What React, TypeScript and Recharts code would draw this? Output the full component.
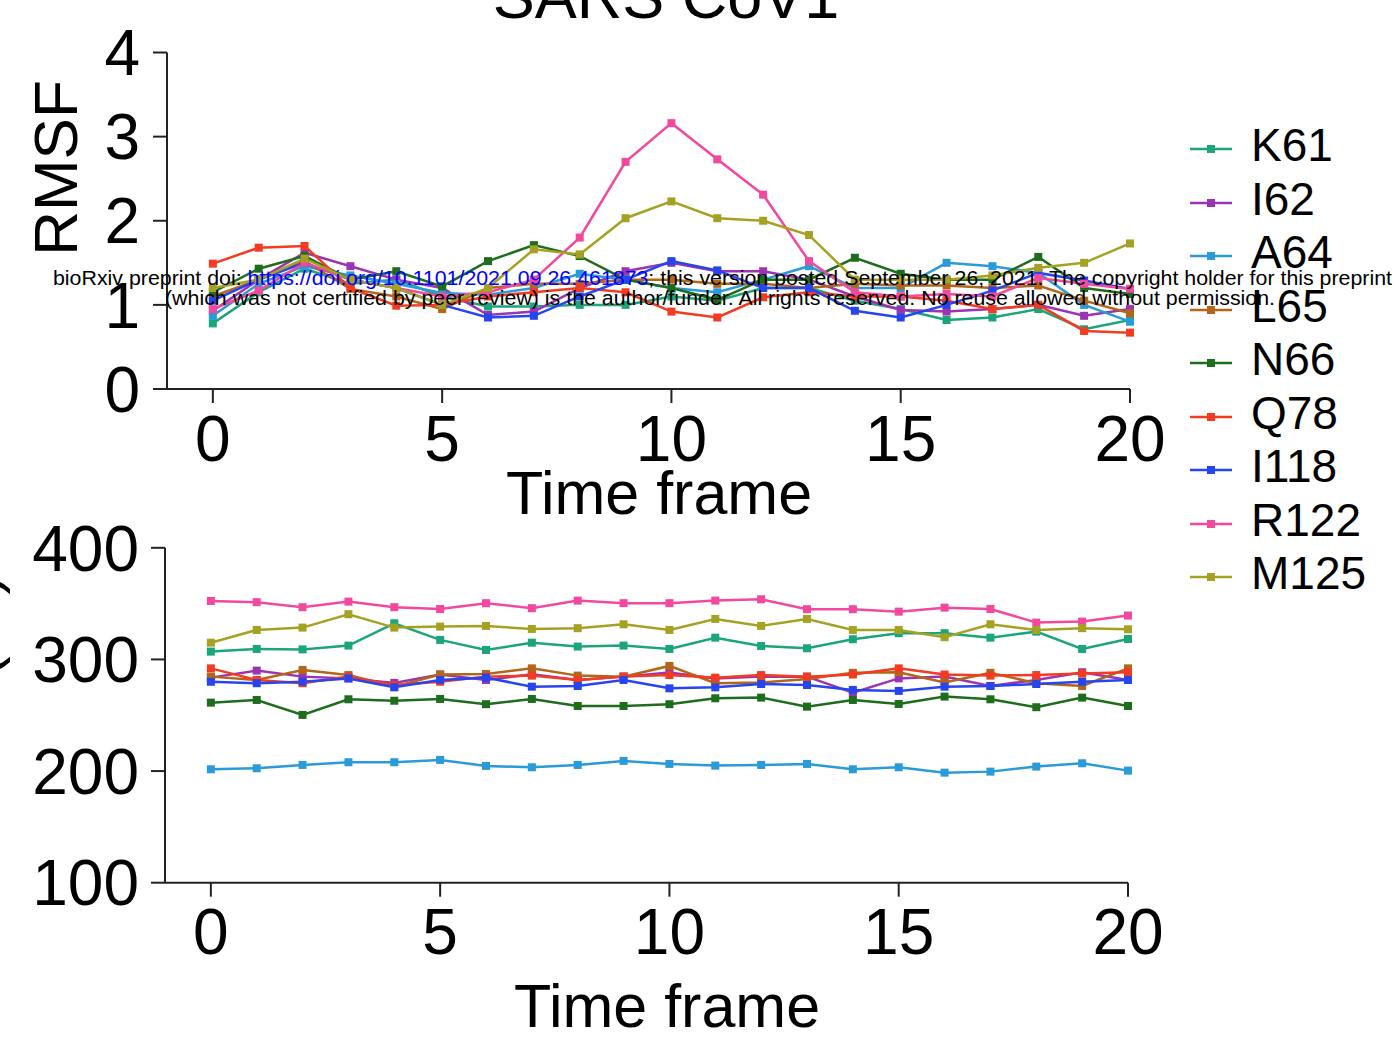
import React from 'react';
import { LineChart, Line, XAxis, YAxis, Legend } from 'recharts';

const FONT = '"Liberation Sans", Arial, sans-serif';

const frames = [0, 1, 2, 3, 4, 5, 6, 7, 8, 9, 10, 11, 12, 13, 14, 15, 16, 17, 18, 19, 20];
const xTicks = [0, 5, 10, 15, 20];
const rmsfTicks = [0, 1, 2, 3, 4];
const sasaTicks = [100, 200, 300, 400];

const residues = ['K61', 'I62', 'A64', 'L65', 'N66', 'Q78', 'I118', 'R122', 'M125'];
const colors = ['#1ba57c', '#9b33b3', '#2a9ad8', '#b3661a', '#1d6d1d', '#f23b20', '#2745ef', '#f2489e', '#a5a223'];

// RMSF (top panel)
const rmsfK61 = [0.78, 1.15, 1.43, 1.25, 1.3, 1.1, 0.98, 0.98, 1.0, 1.0, 1.1, 1.05, 1.2, 1.2, 1.05, 0.95, 0.82, 0.85, 0.95, 0.71, 0.82];
const rmsfI62 = [0.93, 1.3, 1.62, 1.46, 1.3, 1.2, 0.88, 0.92, 1.2, 1.4, 1.5, 1.4, 1.4, 1.3, 1.1, 0.94, 0.92, 0.95, 1.0, 0.87, 0.95];
const rmsfA64 = [0.87, 1.25, 1.46, 1.35, 1.25, 1.14, 1.12, 1.2, 1.37, 1.3, 1.2, 1.15, 1.3, 1.46, 1.2, 1.2, 1.5, 1.46, 1.38, 1.0, 0.8];
const rmsfL65 = [1.1, 1.3, 1.52, 1.19, 1.1, 0.95, 1.2, 1.25, 1.25, 1.3, 1.3, 1.25, 1.25, 1.2, 1.25, 1.23, 1.23, 1.2, 1.23, 1.05, 0.9];
const rmsfN66 = [1.15, 1.43, 1.58, 1.3, 1.4, 1.22, 1.52, 1.71, 1.58, 1.3, 1.2, 1.06, 1.3, 1.3, 1.56, 1.37, 1.3, 1.3, 1.57, 1.2, 1.13];
const rmsfQ78 = [1.49, 1.68, 1.7, 1.2, 0.99, 1.0, 1.1, 1.15, 1.2, 1.15, 0.92, 0.85, 1.09, 1.15, 1.1, 1.1, 1.05, 0.95, 1.0, 0.69, 0.67];
const rmsfI118 = [1.05, 1.3, 1.5, 1.3, 1.2, 1.0, 0.85, 0.87, 1.1, 1.3, 1.52, 1.41, 1.2, 1.2, 0.93, 0.85, 1.0, 1.17, 1.38, 1.29, 1.19];
const rmsfR122 = [0.95, 1.17, 1.5, 1.3, 1.2, 1.1, 1.15, 1.3, 1.8, 2.7, 3.16, 2.73, 2.31, 1.52, 1.15, 1.1, 1.13, 1.1, 1.32, 1.25, 1.19];
const rmsfM125 = [1.2, 1.3, 1.55, 1.3, 1.2, 1.0, 1.2, 1.66, 1.6, 2.03, 2.23, 2.03, 2.0, 1.83, 1.3, 1.3, 1.3, 1.35, 1.44, 1.5, 1.73];

// SASA (bottom panel)
const sasaK61 = [307, 309.4, 309, 312.4, 332.4, 317.5, 308.5, 315, 311.5, 312.4, 309.4, 319.5, 312, 310, 318.1, 323.5, 323.5, 319.5, 324.9, 309.4, 318.3];
const sasaI62 = [283.7, 290, 284.6, 283, 279, 286.5, 281.6, 286.7, 281.6, 284.6, 288.2, 283, 284.6, 284.6, 270.3, 283, 284.6, 276.2, 281.6, 288.5, 281.6];
const sasaA64 = [201.6, 202.5, 205.5, 207.9, 207.9, 210, 204.6, 203.4, 205.5, 209.1, 206.4, 204.9, 205.5, 206.4, 201.6, 203.4, 198.6, 199.5, 204, 207, 200.4];
const sasaL65 = [284.6, 281.6, 290.6, 286, 275.6, 286.5, 287, 292, 285.5, 284.6, 294.2, 278.7, 279.3, 282.5, 288, 288.5, 279.3, 288, 278.7, 276.2, 292];
const sasaN66 = [261.3, 263.7, 250.3, 264.3, 263, 264.6, 259.9, 264.6, 258.3, 258.3, 259.9, 265.2, 265.8, 257.7, 263.7, 260.1, 266.7, 264.3, 257.2, 265.8, 258.3];
const sasaQ78 = [292, 281.6, 278.7, 284.6, 277, 280, 284.6, 285.5, 281.6, 284.6, 286, 283.7, 286, 284.6, 286.5, 292, 286.5, 285.5, 286, 287.3, 288.5];
const sasaI118 = [280, 278.7, 280, 283, 275, 281.6, 283.7, 275.6, 276.2, 281.6, 274.1, 275, 278, 277.1, 272.7, 271.8, 275.6, 276.2, 278, 280, 281.6];
const sasaR122 = [352.4, 351.3, 346.8, 351.8, 346.8, 345.2, 350.4, 345.9, 352.7, 350.4, 350.4, 352.7, 353.9, 345, 345, 342.8, 346.4, 345.2, 333, 333.9, 339.3];
const sasaM125 = [315, 326.4, 328.5, 340.5, 328.5, 329.4, 330, 327.3, 328, 331.5, 326.4, 336.3, 330, 336.3, 326.4, 326.4, 319.9, 331.5, 326.4, 328, 327];

const rmsfSeries = [rmsfK61, rmsfI62, rmsfA64, rmsfL65, rmsfN66, rmsfQ78, rmsfI118, rmsfR122, rmsfM125];
const sasaSeries = [sasaK61, sasaI62, sasaA64, sasaL65, sasaN66, sasaQ78, sasaI118, sasaR122, sasaM125];

const buildRows = (series: number[][]) =>
  frames.map((f, i) => {
    const row: Record<string, number> = { frame: f };
    residues.forEach((r, k) => {
      row[r] = series[k][i];
    });
    return row;
  });

const rmsfData = buildRows(rmsfSeries);
const sasaData = buildRows(sasaSeries);

const AXIS = '#222';
const tickStyle = { fill: '#000', fontSize: 64, fontFamily: FONT };

const squareDot = (color: string) => (props: any) => {
  const { cx, cy, index } = props;
  if (cx == null || cy == null) return <g key={`d${index}`} />;
  return <rect key={`d${index}`} x={cx - 4} y={cy - 4} width={8} height={8} fill={color} />;
};

const LegendContent = (props: any) => {
  const payload = [...(props.payload || [])].sort(
    (a: any, b: any) => residues.indexOf(a.value) - residues.indexOf(b.value)
  );
  return (
    <div style={{ position: 'relative', fontFamily: FONT }}>
      {payload.map((p: any, i: number) => (
        <div key={i} style={{ position: 'relative', height: 53.5 }}>
          <svg width={60} height={53.5} style={{ position: 'absolute', left: 0, top: 0 }}>
            <line x1={2} x2={44} y1={27} y2={27} stroke={p.color} strokeWidth={2.5} />
            <rect x={19} y={23} width={8} height={8} fill={p.color} />
          </svg>
          <span style={{ position: 'absolute', left: 63, top: 0, fontSize: 46, lineHeight: '46px', color: '#000', whiteSpace: 'nowrap' }}>
            {p.value}
          </span>
        </div>
      ))}
    </div>
  );
};

const renderLines = () =>
  residues.map((r, k) => (
    <Line
      key={r}
      type="linear"
      dataKey={r}
      name={r}
      stroke={colors[k]}
      strokeWidth={2.5}
      dot={squareDot(colors[k])}
      activeDot={false}
      isAnimationActive={false}
    />
  ));

export default function App() {
  return (
    <div style={{ position: 'absolute', left: 0, top: 0, width: 1399, height: 1037, background: '#fff', overflow: 'hidden' }}>
      <div style={{ position: 'absolute', left: 0, top: 0 }}>
        <LineChart width={1399} height={600} data={rmsfData} margin={{ top: 52.5, right: 269, bottom: 151, left: 7 }}>
          <XAxis
            dataKey="frame"
            type="number"
            domain={[-1, 20]}
            ticks={xTicks}
            height={60}
            tickSize={14}
            tickMargin={13}
            axisLine={{ stroke: AXIS, strokeWidth: 2 }}
            tickLine={{ stroke: AXIS, strokeWidth: 2 }}
            tick={tickStyle}
            interval={0}
          />
          <YAxis
            type="number"
            domain={[0, 4]}
            ticks={rmsfTicks}
            width={160}
            tickSize={14}
            tickMargin={13}
            axisLine={{ stroke: AXIS, strokeWidth: 2 }}
            tickLine={{ stroke: AXIS, strokeWidth: 2 }}
            tick={tickStyle}
            interval={0}
          />
          <Legend
            layout="vertical"
            align="center"
            verticalAlign="middle"
            itemSorter={(item: any) => residues.indexOf(item.value)}
            content={LegendContent}
            wrapperStyle={{ left: 1188, top: 122, width: 210, height: 490 }}
          />
          {renderLines()}
        </LineChart>
      </div>
      <div style={{ position: 'absolute', left: 0, top: 500 }}>
        <LineChart width={1399} height={537} data={sasaData} margin={{ top: 47.8, right: 271, bottom: 94.3, left: 7 }}>
          <XAxis
            dataKey="frame"
            type="number"
            domain={[-1, 20]}
            ticks={xTicks}
            height={60}
            tickSize={14}
            tickMargin={12}
            axisLine={{ stroke: AXIS, strokeWidth: 2 }}
            tickLine={{ stroke: AXIS, strokeWidth: 2 }}
            tick={tickStyle}
            interval={0}
          />
          <YAxis
            type="number"
            domain={[100, 400]}
            ticks={sasaTicks}
            width={158}
            tickSize={14}
            tickMargin={12}
            axisLine={{ stroke: AXIS, strokeWidth: 2 }}
            tickLine={{ stroke: AXIS, strokeWidth: 2 }}
            tick={tickStyle}
            interval={0}
          />
          {renderLines()}
        </LineChart>
      </div>
      <svg width={1399} height={1037} style={{ position: 'absolute', left: 0, top: 0, pointerEvents: 'none' }}>
        <text x={666} y={18} textAnchor="middle" fontSize={63} fontFamily={FONT} fill="#000">SARS CoV1</text>
        <text x={77} y={168} textAnchor="middle" fontSize={62} fontFamily={FONT} fill="#000" transform="rotate(-90 77 168)">RMSF</text>
        <text x={-3} y={715} textAnchor="middle" fontSize={62} fontFamily={FONT} fill="#000" transform="rotate(-90 -3 715)">SASA (Å²)</text>
        <text x={659} y={514} textAnchor="middle" fontSize={61} fontFamily={FONT} fill="#000">Time frame</text>
        <text x={667} y={1027} textAnchor="middle" fontSize={61} fontFamily={FONT} fill="#000">Time frame</text>
        <text x={53} y={285} fontSize={20.5} fontFamily={FONT} fill="#000" textLength={1339} lengthAdjust="spacingAndGlyphs">
          bioRxiv preprint doi: <tspan fill="#0000ff">https://doi.org/10.1101/2021.09.26.461873</tspan>; this version posted September 26, 2021. The copyright holder for this preprint
        </text>
        <text x={165} y={305} fontSize={20.5} fontFamily={FONT} fill="#000" textLength={1110} lengthAdjust="spacingAndGlyphs">
          (which was not certified by peer review) is the author/funder. All rights reserved. No reuse allowed without permission.
        </text>
      </svg>
    </div>
  );
}
